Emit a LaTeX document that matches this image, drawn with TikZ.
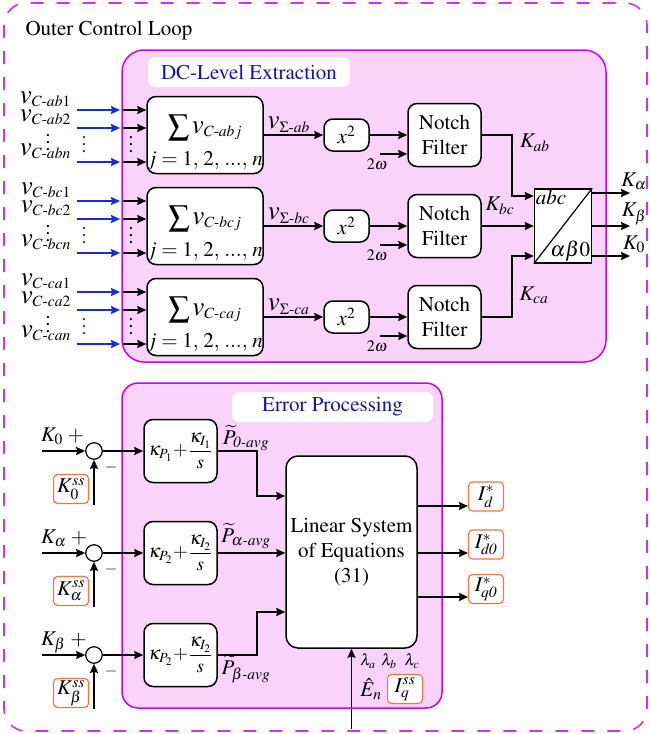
\documentclass[tikz,border=0pt]{standalone}
\usepackage{amsmath}
\usepackage[T1]{fontenc}
\usepackage{mathptmx}
\usetikzlibrary{arrows.meta,positioning,calc}
\definecolor{loopline}{RGB}{204,51,238}
\definecolor{zoneline}{RGB}{204,0,255}
\definecolor{zonefill}{RGB}{249,211,250}
\definecolor{titleblue}{RGB}{20,20,170}
\definecolor{refline}{RGB}{255,112,67}
\definecolor{inblue}{RGB}{25,40,230}
\newcommand{\vdts}{\vbox{\baselineskip=7pt\lineskiplimit=0pt\hbox{.}\hbox{.}\hbox{.}}}
\newcommand{\bv}{\text{\fontsize{27}{27}\selectfont$v$}}
\begin{document}
\begin{tikzpicture}[x=1pt,y=-1pt,every node/.style={font=\fontsize{21}{25}\selectfont},
 blk/.style={draw,rounded corners=9pt,fill=white,line width=1.5pt,align=center,inner sep=0pt},
 zone/.style={draw=zoneline,fill=zonefill,line width=1.5pt,rounded corners=22pt},
 ztitle/.style={fill=white,rounded corners=7pt,text=titleblue,minimum height=30pt,inner sep=0pt},
 ref/.style={draw=refline,fill=white,rounded corners=4pt,line width=1.1pt,minimum width=35pt,minimum height=29pt,inner sep=0pt},
 arr/.style={-{Stealth[length=9pt,width=8pt,inset=1pt]},line width=1.5pt},
 lbs/.style={font=\fontsize{16}{18}\selectfont,inner sep=1pt}]
\useasboundingbox (0,0) rectangle (650,734);
% frames
\draw[loopline,line width=1.6pt,dash pattern=on 13pt off 13pt,rounded corners=22pt] (4,3) rectangle (647,731);
\node[anchor=base west] (outer) at (22,35) {Outer Control Loop};
\draw[zone] (122,50) rectangle (606,362);
\node[ztitle,minimum width=202pt] (dct) at (249,72) {DC-Level Extraction};
\draw[zone,rounded corners=16pt] (122,383) rectangle (442,708);
\node[ztitle,minimum width=201pt] (ept) at (332.5,407) {Error Processing};
% DC-level extraction
\foreach \rw/\y/\ph in {1/135/ab,2/226/bc,3/317/ca}{
 \node[blk,minimum width=116pt,minimum height=77pt] (s\rw) at (205,\y) {};
 \node[inner sep=0pt] (sm\rw) at (205,\y-7) {$\displaystyle\sum\bv_{C\text{-}\ph j}$};
 \node[inner sep=0pt,anchor=base] (sj\rw) at (205,\y+30) {$j=1,\,2,\,...,\,n$};
 \node[blk,minimum width=45pt,minimum height=32pt] (q\rw) at (346.5,\y) {$x^2$};
 \node[blk,minimum width=73pt,minimum height=63pt] (nf\rw) at (444.5,\y) {Notch\\Filter};
 \draw[arr] (s\rw) -- node[above,pos=0.42,inner sep=2pt] {$\bv_{\Sigma\text{-}\ph}$} (q\rw);
 \draw[arr] (q\rw) -- (nf\rw);
 \coordinate (w\rw) at (380,\y+19);
 \draw[arr] (w\rw) -- (w\rw -| nf\rw.west);
 \node[lbs] (wl\rw) at (377,\y+29) {$2\omega$};
 \foreach \k/\dy in {1/-25,2/-7,n/27}{
  \pgfmathsetmacro{\yy}{\y+\dy}
  \coordinate (bi\rw\k) at (77,\yy); \coordinate (bo\rw\k) at (120,\yy); \coordinate (ki\rw\k) at (123,\yy);
  \draw[arr,inblue] (bi\rw\k) -- (bo\rw\k);
  \draw[arr] (ki\rw\k) -- (ki\rw\k -| s\rw.west);
  \node[anchor=base east,inner sep=0pt] (v\rw\k) at (71,\yy-7) {$\bv_{C\text{-}\ph\k}$};
 }
 \node[inner sep=0pt] (dl\rw) at (48,\y+8) {\vdts};
 \node[inner sep=0pt,text=inblue] (db\rw) at (84,\y+10) {\vdts};
 \node[inner sep=0pt] (dk\rw) at (131,\y+10) {\vdts};
}
\node[draw,fill=white,line width=1.5pt,minimum width=57pt,minimum height=74pt] (abc) at (563,226) {};
\draw[line width=1.2pt] (abc.south west) -- (abc.north east);
\node[anchor=north west,inner sep=2pt] (abcl) at (abc.north west) {$abc$};
\node[anchor=south east,inner sep=2pt] (abcr) at (abc.south east) {$\alpha\beta0$};
\draw[arr] (nf1.east) -- ++(30,0) |- ($(abc.west)+(0,-30)$);
\draw[arr] (nf2) -- (abc);
\draw[arr] (nf3.east) -- ++(30,0) |- ($(abc.west)+(0,30)$);
\node (kab) at (535,143) {$K_{ab}$};
\node (kbc) at (500,206) {$K_{bc}$};
\node (kca) at (534,295) {$K_{ca}$};
\foreach \o/\dy/\lab in {a/-33/\alpha,b/0/\beta,z/30/0}{
 \coordinate (k\o) at (630,226+\dy);
 \draw[arr] (abc.east |- k\o) -- (k\o);
 \node (kl\o) at (634,214+\dy) {$K_{\lab}$};
}
% error processing
\node[blk,minimum width=131pt,minimum height=192pt,rounded corners=12pt] (lin) at (351.5,552) {Linear System\\of Equations\\(31)};
\foreach \rw/\y/\kk/\ix in {1/451/0/1,2/553/\alpha/2,3/655/\beta/2}{
 \node[circle,draw,fill=white,line width=1.2pt,minimum size=16.5pt,inner sep=0pt] (c\rw) at (94,\y) {};
 \coordinate (ki\rw) at (42,\y);
 \draw[arr] (ki\rw) -- (c\rw);
 \node[anchor=base west,inner sep=0pt] (kl\rw) at (41,\y-10) {$K_{\kk}\;+$};
 \node[lbs] (mi\rw) at (111,\y+16) {$-$};
 \node[ref] (kss\rw) at (71,\y+38) {$K^{ss}_{\kk}$};
 \coordinate (fb\rw) at (94,\y+54);
 \draw[arr] (fb\rw) -- (c\rw);
 \node[blk,minimum width=73pt,minimum height=63pt,font=\fontsize{19}{22}\selectfont] (p\rw) at (180.5,\y) {$\kappa_{P_{\ix}}\!+\!\dfrac{\kappa_{I_{\ix}}}{s}$};
 \draw[arr] (c\rw) -- (p\rw);
}
\draw[arr] (p1.east) -- ++(39,0) |- ($(lin.west)+(0,-56)$);
\draw[arr] (p2) -- (p2 -| lin.west);
\draw[arr] (p3.east) -- ++(39,0) |- ($(lin.west)+(0,60)$);
\node (pz) at (246,438) {$\widetilde{P}_{\textit{0-avg}}$};
\node (pa) at (246,536) {$\widetilde{P}_{\alpha\textit{-avg}}$};
\node (pb) at (246,669) {$\widetilde{P}_{\beta\textit{-avg}}$};
\node[ref] (id) at (486,496.5) {$I^{*}_{d}$};
\node[ref] (idz) at (486,544.5) {$I^{*}_{\textit{d0}}$};
\node[ref] (iqz) at (486,589) {$I^{*}_{\textit{q0}}$};
\draw[arr] (lin.east |- 0,506) -- (id.west |- 0,506);
\draw[arr] (lin.east |- 0,553) -- (idz.west |- 0,553);
\draw[arr] (lin.east |- 0,597) -- (iqz.west |- 0,597);
\coordinate (ein) at (351.5,729);
\draw[arr] (ein) -- (lin.south);
\node[lbs] (la) at (368,661) {$\lambda_a$};
\node[lbs] (lb) at (389,661) {$\lambda_b$};
\node[lbs] (lc) at (412,661) {$\lambda_c$};
\node[inner sep=1pt] (en) at (371,689) {$\hat{E}_n$};
\node[ref] (iqss) at (405,689) {$I^{ss}_q$};
\end{tikzpicture}
\end{document}
